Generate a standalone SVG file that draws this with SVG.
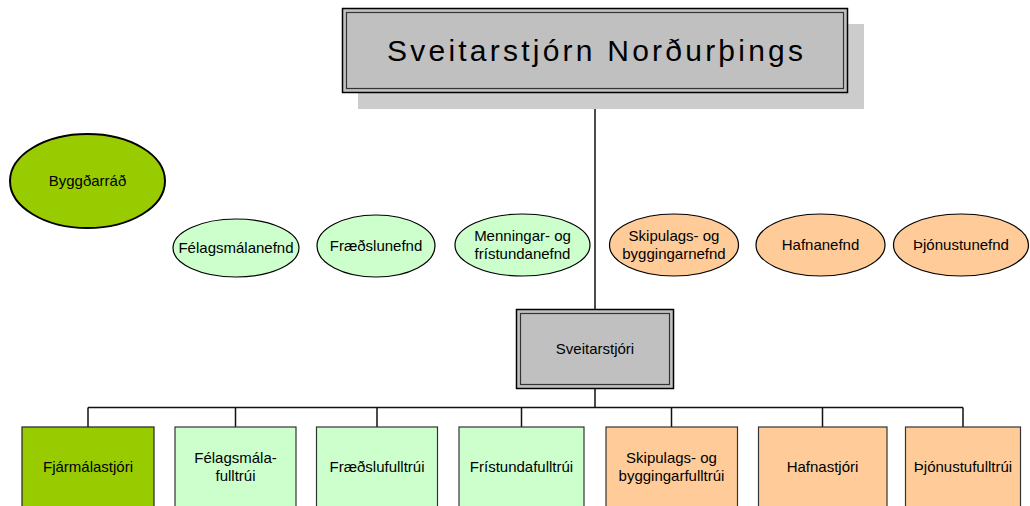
<svg xmlns="http://www.w3.org/2000/svg" width="1030" height="506" viewBox="0 0 1030 506">
<style>
  text { font-family: "Liberation Sans", Arial, sans-serif; font-size: 15px; fill: #000; text-anchor: middle; }
  .title { font-size: 30px; }
  .gray { fill: #c0c0c0; stroke: #000; stroke-width: 1.5; }
  .inner { fill: none; stroke: #333; stroke-width: 1.2; }
  .shadow { fill: #cccccc; stroke: none; }
  .ell-dk { fill: #99cc00; stroke: #000; stroke-width: 2; }
  .ell-lg { fill: #ccffcc; stroke: #000; stroke-width: 1.2; }
  .ell-or { fill: #ffcc99; stroke: #000; stroke-width: 1.2; }
  .box-dk { fill: #99cc00; stroke: #222; stroke-width: 1.2; }
  .box-lg { fill: #ccffcc; stroke: #333; stroke-width: 1.2; }
  .box-or { fill: #ffcc99; stroke: #333; stroke-width: 1.2; }
  .conn { fill: none; stroke: #111; stroke-width: 1.5; }
</style>
<rect width="1030" height="506" fill="#fff"/>
<g id="connectors">
  <path class="conn" d="M595 93 V309"/>
  <path class="conn" d="M595 389 V407.5"/>
  <path class="conn" d="M88 407.5 H963"/>
  <path class="conn" d="M88 407.5 V427 M235.5 407.5 V427 M377 407.5 V427 M521.5 407.5 V427 M671.5 407.5 V427 M822.5 407.5 V427 M963 407.5 V427"/>
</g>
<g id="sveitarstjorn">
  <rect class="shadow" x="358" y="24" width="506" height="85"/>
  <rect class="gray" x="342.5" y="8.5" width="505" height="84"/>
  <rect class="inner" x="346.5" y="12.5" width="497" height="76"/>
  <text class="title" x="595" y="61" textLength="416" lengthAdjust="spacing">Sveitarstjórn Norðurþings</text>
</g>
<g id="byggdarrad">
  <ellipse class="ell-dk" cx="87.5" cy="181" rx="77.5" ry="47"/>
  <text x="87.5" y="186">Byggðarráð</text>
</g>
<g id="felagsmalanefnd">
  <ellipse class="ell-lg" cx="236" cy="248" rx="63" ry="29"/>
  <text x="236" y="253">Félagsmálanefnd</text>
</g>
<g id="fraedslunefnd">
  <ellipse class="ell-lg" cx="376" cy="246" rx="59" ry="31"/>
  <text x="376" y="251">Fræðslunefnd</text>
</g>
<g id="menningarnefnd">
  <ellipse class="ell-lg" cx="522.5" cy="245" rx="67.5" ry="31"/>
  <text x="522.5" y="241">Menningar- og</text>
  <text x="522.5" y="259">frístundanefnd</text>
</g>
<g id="skipulagsnefnd">
  <ellipse class="ell-or" cx="674" cy="245" rx="64.5" ry="31"/>
  <text x="674" y="241">Skipulags- og</text>
  <text x="674" y="259">byggingarnefnd</text>
</g>
<g id="hafnanefnd">
  <ellipse class="ell-or" cx="820.5" cy="245" rx="64.5" ry="31"/>
  <text x="820.5" y="250">Hafnanefnd</text>
</g>
<g id="thjonustunefnd">
  <ellipse class="ell-or" cx="961" cy="245" rx="67.5" ry="31"/>
  <text x="961" y="250">Þjónustunefnd</text>
</g>
<g id="sveitarstjori">
  <rect class="gray" x="516.5" y="309.5" width="157" height="79"/>
  <rect class="inner" x="520.5" y="313.5" width="149" height="71"/>
  <text x="595" y="354">Sveitarstjóri</text>
</g>
<g id="fjarmalastjori">
  <rect class="box-dk" x="22" y="427" width="132" height="90"/>
  <text x="88" y="472">Fjármálastjóri</text>
</g>
<g id="felagsmalafulltrui">
  <rect class="box-lg" x="175" y="427" width="121" height="90"/>
  <text x="235.5" y="463">Félagsmála-</text>
  <text x="235.5" y="481">fulltrúi</text>
</g>
<g id="fraedslufulltrui">
  <rect class="box-lg" x="316.5" y="427" width="121" height="90"/>
  <text x="377" y="472">Fræðslufulltrúi</text>
</g>
<g id="fristundafulltrui">
  <rect class="box-lg" x="459" y="427" width="125" height="90"/>
  <text x="521.5" y="472">Frístundafulltrúi</text>
</g>
<g id="skipulagsfulltrui">
  <rect class="box-or" x="606" y="427" width="131.5" height="90"/>
  <text x="671.5" y="463">Skipulags- og</text>
  <text x="671.5" y="481">byggingarfulltrúi</text>
</g>
<g id="hafnastjori">
  <rect class="box-or" x="758.5" y="427" width="128.5" height="90"/>
  <text x="822.5" y="472">Hafnastjóri</text>
</g>
<g id="thjonustufulltrui">
  <rect class="box-or" x="905.5" y="427" width="115" height="90"/>
  <text x="963" y="472">Þjónustufulltrúi</text>
</g>
</svg>
